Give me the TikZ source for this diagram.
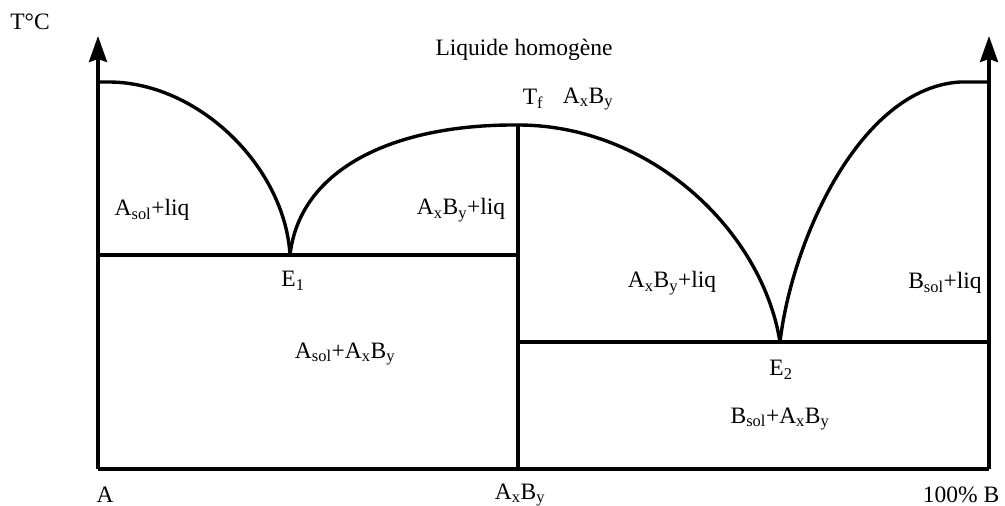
\documentclass[tikz,border=0pt]{standalone}
\usepackage{fontspec}
\setmainfont{Liberation Serif}
\usetikzlibrary{arrows.meta}
\begin{document}
\begin{tikzpicture}[x=1pt,y=-1pt,
  ln/.style={line width=3.4pt, line join=round},
  ax/.style={ln, -{Stealth[length=26pt,width=18pt,inset=3pt]}},
  lbl/.style={font=\fontsize{23.5}{27}\selectfont, inner sep=0pt, anchor=center}]
\useasboundingbox (0,0) rectangle (1005,506);
% key coordinates
\coordinate (O) at (98,469);
\coordinate (Btm) at (989,469);
\coordinate (Atop) at (98,36);
\coordinate (Btop) at (989,36);
\coordinate (LA) at (98,82);
\coordinate (RB) at (989,82);
\coordinate (E1) at (290,255);
\coordinate (E2) at (780,342);
\coordinate (M) at (518,125);
\coordinate (Mb) at (518,469);
\coordinate (E1l) at (98,255);
\coordinate (E1r) at (518,255);
\coordinate (E2l) at (518,342);
\coordinate (E2r) at (989,342);
% axes
\draw[ax] (O) -- (Atop);
\draw[ax] (Btm) -- (Btop);
\draw[ln] (O) -- (Btm);
% vertical compound line
\draw[ln] (Mb) -- (M);
% eutectic lines
\draw[ln] (E1l) -- (E1r);
\draw[ln] (E2l) -- (E2r);
% liquidus curves
\draw[ln] (LA) -- (110,82) .. controls (200,83) and (285,168) .. (E1);
\draw[ln] (E1) .. controls (300,168) and (395,124) .. (M);
\draw[ln] (M) .. controls (650,125) and (762,230) .. (E2);
\draw[ln] (E2) .. controls (792,240) and (860,88) .. (960,82) -- (RB);
% labels
\node[lbl] (tc) at (30,22) {T°C};
\node[lbl] (liq) at (524,50) {Liquide homogène};
\node[lbl] (tf) at (533,99) {T\textsubscript{f}};
\node[lbl] (axbytop) at (588,99) {A\textsubscript{x}B\textsubscript{y}};
\node[lbl] (asliq) at (152,210) {A\textsubscript{sol}+liq};
\node[lbl] (axliq1) at (461,210) {A\textsubscript{x}B\textsubscript{y}+liq};
\node[lbl] (e1) at (293,281) {E\textsubscript{1}};
\node[lbl] (axliq2) at (672,283) {A\textsubscript{x}B\textsubscript{y}+liq};
\node[lbl] (bsliq) at (945,283) {B\textsubscript{sol}+liq};
\node[lbl] (asax) at (345,354) {A\textsubscript{sol}+A\textsubscript{x}B\textsubscript{y}};
\node[lbl] (e2) at (781,370) {E\textsubscript{2}};
\node[lbl] (bsax) at (780,419) {B\textsubscript{sol}+A\textsubscript{x}B\textsubscript{y}};
\node[lbl] (la) at (105,495) {A};
\node[lbl] (laxby) at (520,495) {A\textsubscript{x}B\textsubscript{y}};
\node[lbl] (lb) at (961,495) {100\% B};
\end{tikzpicture}
\end{document}
